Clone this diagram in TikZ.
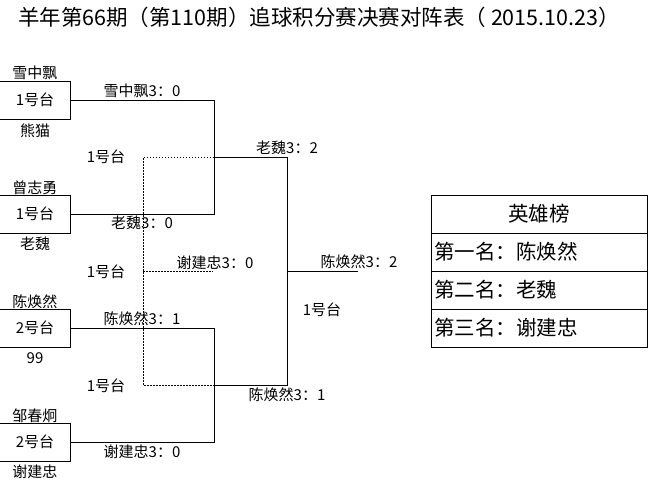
\documentclass[tikz,border=0pt]{standalone}
\usepackage{fontspec}
\setmainfont{Noto Sans CJK SC}
\begin{document}
\begin{tikzpicture}[x=1pt,y=-1pt,line width=0.9pt,
   lbl/.style={font=\fontsize{15}{17}\selectfont,inner sep=0pt},
   tbox/.style={draw,lbl,minimum width=71pt,minimum height=38pt},
   rank/.style={draw,font=\fontsize{20.5}{23}\selectfont,text width=210pt,inner xsep=3pt,minimum height=38pt,align=left},
   dotline/.style={dash pattern=on 1.5pt off 1.5pt}]
   \useasboundingbox (0,0) rectangle (653,493);
   \node[font=\fontsize{21.5}{25}\selectfont] (title) at (319,17) {羊年第66期（第110期）追球积分赛决赛对阵表（ 2015.10.23）};
   % tables
   \node[tbox] (t1) at (35,100) {1号台};
   \node[tbox] (t2) at (35,214) {1号台};
   \node[tbox] (t3) at (35,328) {2号台};
   \node[tbox] (t4) at (35,442) {2号台};
   \node[lbl] (p1) at (35,73) {雪中飘};
   \node[lbl] (p2) at (35,131) {熊猫};
   \node[lbl] (p3) at (35,188) {曾志勇};
   \node[lbl] (p4) at (35,244) {老魏};
   \node[lbl] (p5) at (35,302) {陈焕然};
   \node[lbl] (p6) at (35,358) {99};
   \node[lbl] (p7) at (35,416) {邹春炯};
   \node[lbl] (p8) at (35,472) {谢建忠};
   % bracket
   \coordinate (s1) at (214,157);
   \coordinate (s2) at (214,385);
   \coordinate (f) at (287,271);
   \coordinate (fe) at (358,271);
   \draw[] (t1.east) -- (t1.east -| s1) -- (t2.east -| s1) -- (t2.east);
   \draw[] (t3.east) -- (t3.east -| s2) -- (t4.east -| s2) -- (t4.east);
   \draw[] (s1) -- (s1 -| f) -- (s2 -| f) -- (s2);
   \draw[] (f) -- (fe);
   \coordinate (d1) at (143,157);
   \coordinate (d2) at (143,385);
   \coordinate (d3) at (143,271);
   \coordinate (d4) at (213,271);
   \draw[dotline] (s1) -- (d1) -- (d2) -- (s2);
   \draw[dotline] (d3) -- (d4);
   % results
   \node[lbl] (r1) at (142,91) {雪中飘3：0};
   \node[lbl] (r2) at (142,223) {老魏3：0};
   \node[lbl] (r3) at (142,319) {陈焕然3：1};
   \node[lbl] (r4) at (142,452) {谢建忠3：0};
   \node[lbl] (r5) at (287,148) {老魏3：2};
   \node[lbl] (r6) at (287,395) {陈焕然3：1};
   \node[lbl] (r7) at (215,263) {谢建忠3：0};
   \node[lbl] (r8) at (359,262) {陈焕然3：2};
   \node[lbl] (g1) at (106,157) {1号台};
   \node[lbl] (g2) at (106,272) {1号台};
   \node[lbl] (g3) at (106,386) {1号台};
   \node[lbl] (g4) at (322,310) {1号台};
   % hero list
   \node[rank,align=center] (h0) at (539,214) {英雄榜};
   \node[rank] (h1) at (539,252) {第一名：陈焕然};
   \node[rank] (h2) at (539,290) {第二名：老魏};
   \node[rank] (h3) at (539,328) {第三名：谢建忠};
 \end{tikzpicture}
\end{document}
